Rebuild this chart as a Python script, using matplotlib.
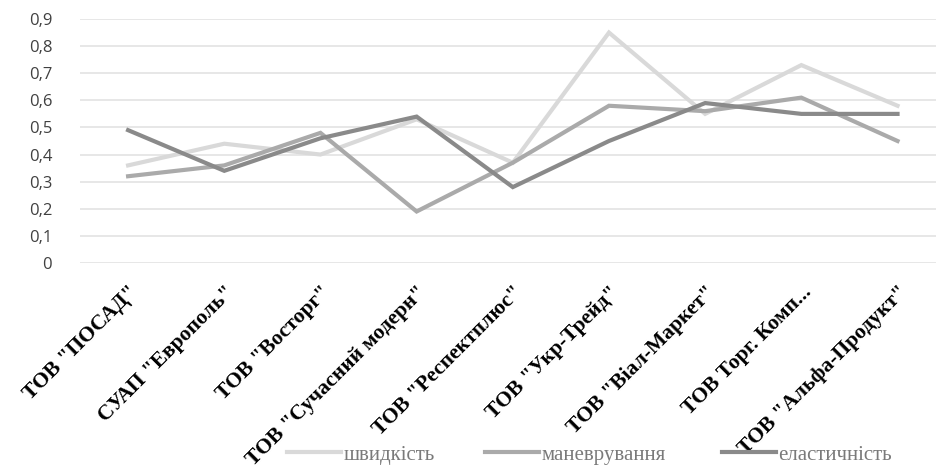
import matplotlib
matplotlib.use("Agg")
import matplotlib.pyplot as plt
from matplotlib.ticker import FixedLocator, FuncFormatter

categories = ['ТОВ "ПОСАД"', 'СУАП "Европоль"', 'ТОВ "Восторг"', 'ТОВ "Сучасний модерн"',
              'ТОВ "Респектплюс"', 'ТОВ "Укр-Трейд"', 'ТОВ "Віал-Маркет"', 'ТОВ Торг. Комп...',
              'ТОВ "Альфа-Продукт"']
speed = [0.36, 0.44, 0.40, 0.53, 0.37, 0.85, 0.55, 0.73, 0.58]
manoeuvre = [0.32, 0.36, 0.48, 0.19, 0.37, 0.58, 0.56, 0.61, 0.45]
elasticity = [0.49, 0.34, 0.46, 0.54, 0.28, 0.45, 0.59, 0.55, 0.55]
series_names = ['швидкість', 'маневрування', 'еластичність']
yticks = [0, 0.1, 0.2, 0.3, 0.4, 0.5, 0.6, 0.7, 0.8, 0.9]

fig = plt.figure(figsize=(9.36, 4.72), dpi=100)
ax = fig.add_axes([80/936, 1-263/472, (936-80)/936, (263-19)/472])

x = list(range(len(categories)))
cols = ['#d9d9d9', '#aaaaaa', '#8a8a8a']
handles = []
for vals, name, c in zip([speed, manoeuvre, elasticity], series_names, cols):
    h, = ax.plot(x, vals, color=c, lw=3.0, label=name, solid_joinstyle='miter', zorder=3)
    handles.append(h)

ax.set_xlim(-0.5, 8.4)
ax.set_ylim(0, 0.9)
ax.yaxis.set_major_locator(FixedLocator(yticks))
ax.yaxis.set_major_formatter(FuncFormatter(lambda v, p: '0' if v == 0 else f'{v:.1f}'.replace('.', ',')))
ax.grid(axis='y', color='#e3e3e3', lw=1.2)
for s in ax.spines.values():
    s.set_visible(False)
ax.tick_params(axis='y', length=0, pad=20, labelsize=12, labelcolor='#404040')
for lab in ax.get_yticklabels():
    lab.set_fontfamily('Open Sans')
ax.set_xticks(x)
ax.set_xticklabels(categories, rotation=45, ha='right', va='top', rotation_mode='anchor',
                   fontfamily='Liberation Serif', fontweight='bold', fontsize=15.5, color='black')
ax.tick_params(axis='x', length=0, pad=14)

# legend entries placed individually at their positions
leg_x = [287, 485, 722]
for h, name, lx in zip(handles, series_names, leg_x):
    lg = fig.legend([h], [name], loc='center left', bbox_to_anchor=(lx/936, 1-455/472),
                    frameon=False, handlelength=2.6, handletextpad=0.1, borderpad=0, borderaxespad=0,
                    prop={'family': 'Liberation Serif', 'size': 15})
    for t in lg.get_texts():
        t.set_color('#7a7a7a')

fig.savefig('out.png', dpi=100)
